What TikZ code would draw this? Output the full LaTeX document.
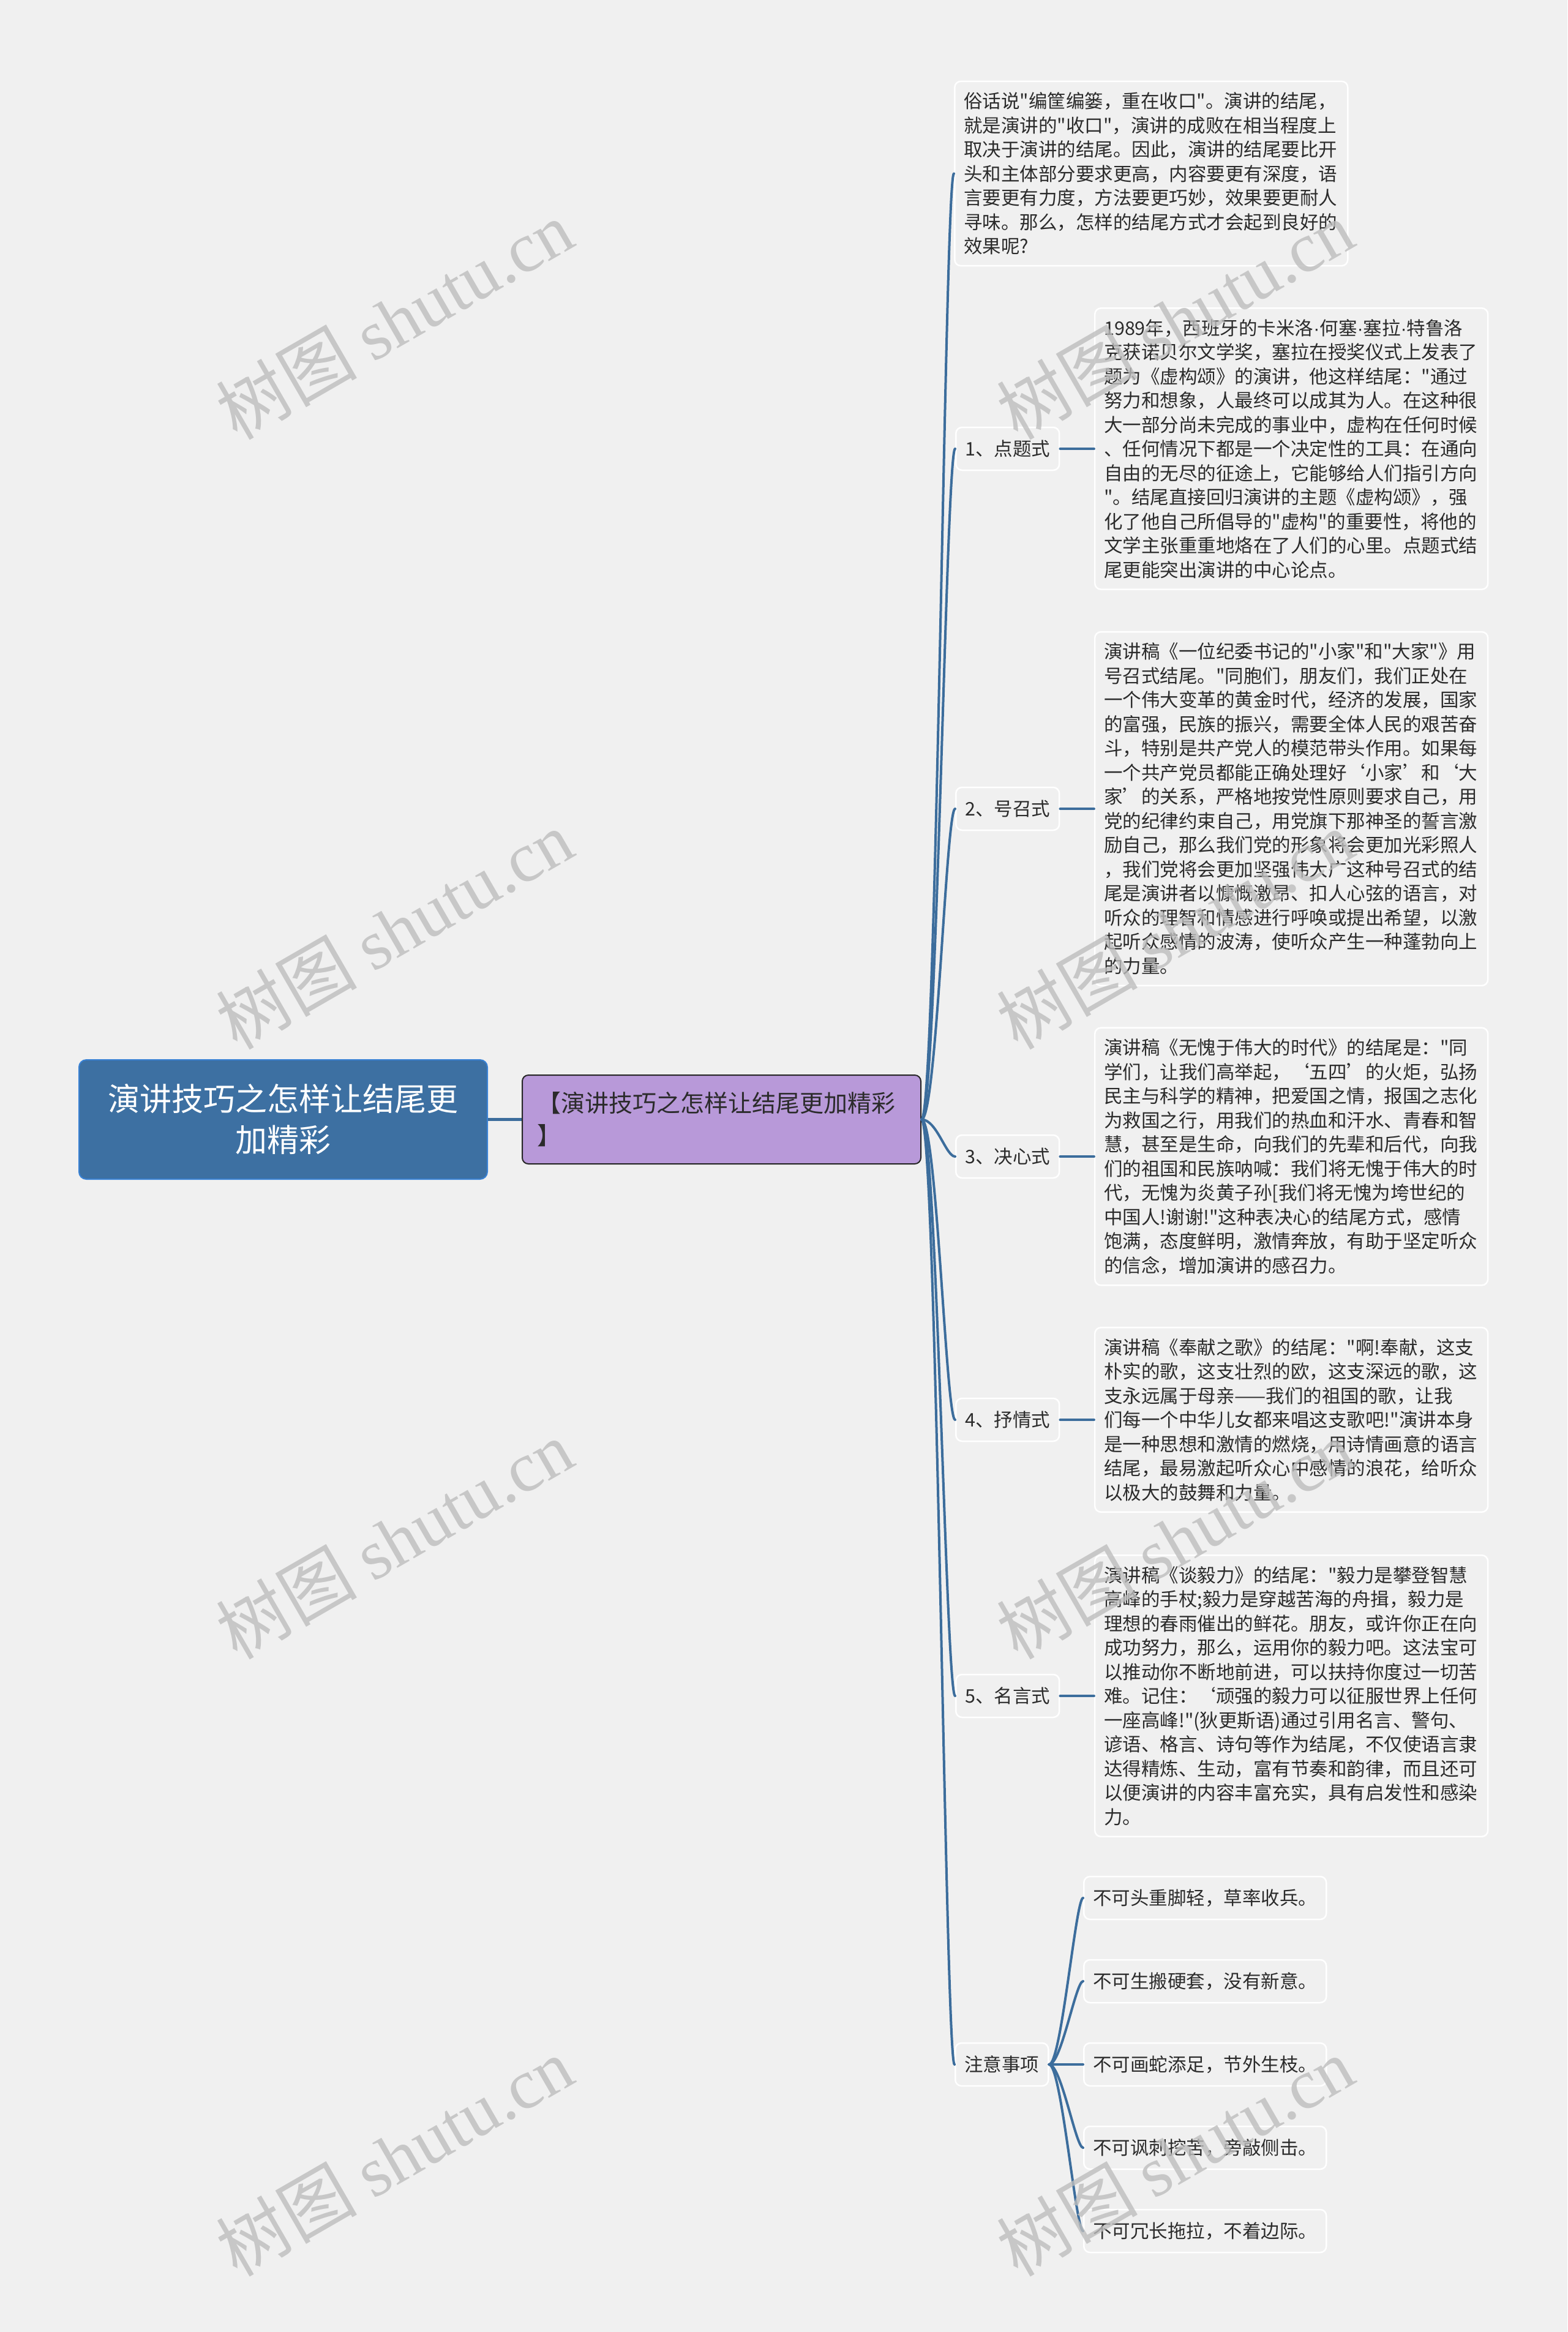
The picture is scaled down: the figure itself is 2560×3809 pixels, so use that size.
\documentclass[tikz,border=0pt]{standalone}
\usepackage{fontspec}
\setmainfont{Noto Sans CJK SC}[Ligatures=TeXOff]
\newfontfamily\wmlatin{Liberation Serif}
\newfontfamily\dotfont{Liberation Sans}
\newcommand{\mdot}{{\dotfont ·}}
\usepackage{xcolor}
\definecolor{pageBg}{HTML}{F0F0F0}
\definecolor{rootBlue}{HTML}{3D70A2}
\definecolor{rootEdge}{HTML}{3A82D4}
\definecolor{lilac}{HTML}{B899D9}
\definecolor{linkBlue}{HTML}{3C6D9C}
\definecolor{darkText}{HTML}{2B2B2B}
\definecolor{markGray}{HTML}{BDBDBD}
\usepackage{tikz}
\usetikzlibrary{
    positioning
}
\tikzset{
    % Root topic - filled blue card
    root topic/.style={
        rectangle,
        rounded corners=12pt,
        fill=rootBlue,
        draw=rootEdge,
        line width=2pt,
        text=white,
        align=center,
        font=\fontsize{52}{67}\selectfont,
        minimum width=667pt,
        minimum height=195pt,
    },
    % Main topic - lilac card with dark edge
    main topic/.style={
        rectangle,
        rounded corners=10pt,
        fill=lilac,
        draw=black!85,
        line width=2pt,
        text=darkText,
        align=left,
        text width=603pt,
        inner xsep=24pt,
        font=\fontsize{39}{53}\selectfont,
        minimum height=145pt,
    },
    % Plain card - white edge on the page colour
    card/.style={
        rectangle,
        rounded corners=10pt,
        fill=pageBg,
        draw=white,
        line width=2.5pt,
        text=darkText,
        font=\fontsize{30.5}{39.5}\selectfont,
        inner xsep=15pt,
    },
    % Short labels
    label card/.style={
        card,
        minimum height=70pt,
    },
    % Long paragraphs
    text card/.style={
        card,
        align=left,
        text width=612pt,
        inner ysep=18pt,
    },
    % Connectors
    trunk/.style={
        draw=linkBlue,
        line width=5.5pt,
    },
    branch/.style={
        draw=linkBlue,
        line width=4pt,
        line cap=round,
    },
    % Site watermark
    watermark/.style={
        text=markGray,
        opacity=0.8,
        rotate=30,
        inner sep=0pt,
        font=\fontsize{115}{115}\selectfont,
    },
}

\begin{document}
\begin{tikzpicture}[x=1pt, y=-1pt]
    \fill[pageBg] (0,0) rectangle (2560,3809);
    \useasboundingbox (0,0) rectangle (2560,3809);

    \node (root) [root topic] at (462.5,1828.5) {演讲技巧之怎样让结尾更\\加精彩};
    \node (main) [main topic, right=55pt of root] {【演讲技巧之怎样让结尾更加精彩\\】};

    % intro
    \node (l0) [text card, anchor=west] at (1558,283.5) {俗话说"编筐编篓，重在收口"。演讲的结尾，\\就是演讲的"收口"，演讲的成败在相当程度上\\取决于演讲的结尾。因此，演讲的结尾要比开\\头和主体部分要求更高，内容要更有深度，语\\言要更有力度，方法要更巧妙，效果要更耐人\\寻味。那么，怎样的结尾方式才会起到良好的\\效果呢?};

    % five ways of ending
    \node (l1) [label card, anchor=west] at (1560,733) {1、点题式};
    \node (t1) [text card, right=55.5pt of l1] {1989年，西班牙的卡米洛\mdot 何塞\mdot 塞拉\mdot 特鲁洛\\克获诺贝尔文学奖，塞拉在授奖仪式上发表了\\题为《虚构颂》的演讲，他这样结尾："通过\\努力和想象，人最终可以成其为人。在这种很\\大一部分尚未完成的事业中，虚构在任何时候\\、任何情况下都是一个决定性的工具：在通向\\自由的无尽的征途上，它能够给人们指引方向\\"。结尾直接回归演讲的主题《虚构颂》，强\\化了他自己所倡导的"虚构"的重要性，将他的\\文学主张重重地烙在了人们的心里。点题式结\\尾更能突出演讲的中心论点。};

    \node (l2) [label card, anchor=west] at (1560,1321) {2、号召式};
    \node (t2) [text card, right=55.5pt of l2] {演讲稿《一位纪委书记的"小家"和"大家"》用\\号召式结尾。"同胞们，朋友们，我们正处在\\一个伟大变革的黄金时代，经济的发展，国家\\的富强，民族的振兴，需要全体人民的艰苦奋\\斗，特别是共产党人的模范带头作用。如果每\\一个共产党员都能正确处理好‘小家’和‘大\\家’的关系，严格地按党性原则要求自己，用\\党的纪律约束自己，用党旗下那神圣的誓言激\\励自己，那么我们党的形象将会更加光彩照人\\，我们党将会更加坚强伟大广这种号召式的结\\尾是演讲者以慷慨激昂、扣人心弦的语言，对\\听众的理智和情感进行呼唤或提出希望，以激\\起听众感情的波涛，使听众产生一种蓬勃向上\\的力量。};

    \node (l3) [label card, anchor=west] at (1560,1889) {3、决心式};
    \node (t3) [text card, right=55.5pt of l3] {演讲稿《无愧于伟大的时代》的结尾是："同\\学们，让我们高举起，‘五四’的火炬，弘扬\\民主与科学的精神，把爱国之情，报国之志化\\为救国之行，用我们的热血和汗水、青春和智\\慧，甚至是生命，向我们的先辈和后代，向我\\们的祖国和民族呐喊：我们将无愧于伟大的时\\代，无愧为炎黄子孙[我们将无愧为垮世纪的\\中国人!谢谢!"这种表决心的结尾方式，感情\\饱满，态度鲜明，激情奔放，有助于坚定听众\\的信念，增加演讲的感召力。};

    \node (l4) [label card, anchor=west] at (1560,2319) {4、抒情式};
    \node (t4) [text card, right=55.5pt of l4] {演讲稿《奉献之歌》的结尾："啊!奉献，这支\\朴实的歌，这支壮烈的欧，这支深远的歌，这\\支永远属于母亲——我们的祖国的歌，让我\\们每一个中华儿女都来唱这支歌吧!"演讲本身\\是一种思想和激情的燃烧，用诗情画意的语言\\结尾，最易激起听众心中感情的浪花，给听众\\以极大的鼓舞和力量。};

    \node (l5) [label card, anchor=west] at (1560,2770) {5、名言式};
    \node (t5) [text card, right=55.5pt of l5] {演讲稿《谈毅力》的结尾："毅力是攀登智慧\\高峰的手杖;毅力是穿越苦海的舟揖，毅力是\\理想的春雨催出的鲜花。朋友，或许你正在向\\成功努力，那么，运用你的毅力吧。这法宝可\\以推动你不断地前进，可以扶持你度过一切苦\\难。记住：‘顽强的毅力可以征服世界上任何\\一座高峰!"(狄更斯语)通过引用名言、警句、\\谚语、格言、诗句等作为结尾，不仅使语言隶\\达得精炼、生动，富有节奏和韵律，而且还可\\以便演讲的内容丰富充实，具有启发性和感染\\力。};

    % notes
    \node (l6) [label card, anchor=west] at (1559,3372) {注意事项};
    \node (n3) [label card, right=55.5pt of l6] {不可画蛇添足，节外生枝。};
    \node (n2) [label card, above=63.5pt of n3] {不可生搬硬套，没有新意。};
    \node (n1) [label card, above=63.5pt of n2] {不可头重脚轻，草率收兵。};
    \node (n4) [label card, below=63.5pt of n3] {不可讽刺挖苦，旁敲侧击。};
    \node (n5) [label card, below=63.5pt of n4] {不可冗长拖拉，不着边际。};

    \draw [trunk] (root) -- (main);

    \draw [branch] (main.east) .. controls +(25,0) and +(-15,0) .. (l0.west);
    \draw [branch] (main.east) .. controls +(25,0) and +(-15,0) .. (l1.west);
    \draw [branch] (main.east) .. controls +(25,0) and +(-15,0) .. (l2.west);
    \draw [branch] (main.east) .. controls +(25,0) and +(-15,0) .. (l3.west);
    \draw [branch] (main.east) .. controls +(25,0) and +(-15,0) .. (l4.west);
    \draw [branch] (main.east) .. controls +(25,0) and +(-15,0) .. (l5.west);
    \draw [branch] (main.east) .. controls +(25,0) and +(-15,0) .. (l6.west);

    \draw [branch] (l1) -- (t1);
    \draw [branch] (l2) -- (t2);
    \draw [branch] (l3) -- (t3);
    \draw [branch] (l4) -- (t4);
    \draw [branch] (l5) -- (t5);

    \draw [branch] (l6.east) .. controls +(20,0) and +(-12,0) .. (n1.west);
    \draw [branch] (l6.east) .. controls +(20,0) and +(-12,0) .. (n2.west);
    \draw [branch] (l6.east) -- (n3.west);
    \draw [branch] (l6.east) .. controls +(20,0) and +(-12,0) .. (n4.west);
    \draw [branch] (l6.east) .. controls +(20,0) and +(-12,0) .. (n5.west);

    % watermarks
    \node (wm1) [watermark] at (644,522) {树图 {\wmlatin shutu.cn}};
    \node (wm2) [watermark] at (644,1518) {树图 {\wmlatin shutu.cn}};
    \node (wm3) [watermark] at (644,2514) {树图 {\wmlatin shutu.cn}};
    \node (wm4) [watermark] at (644,3522) {树图 {\wmlatin shutu.cn}};
    \node (wm5) [watermark] at (1919,522) {树图 {\wmlatin shutu.cn}};
    \node (wm6) [watermark] at (1919,1518) {树图 {\wmlatin shutu.cn}};
    \node (wm7) [watermark] at (1919,2514) {树图 {\wmlatin shutu.cn}};
    \node (wm8) [watermark] at (1919,3522) {树图 {\wmlatin shutu.cn}};
\end{tikzpicture}
\end{document}
